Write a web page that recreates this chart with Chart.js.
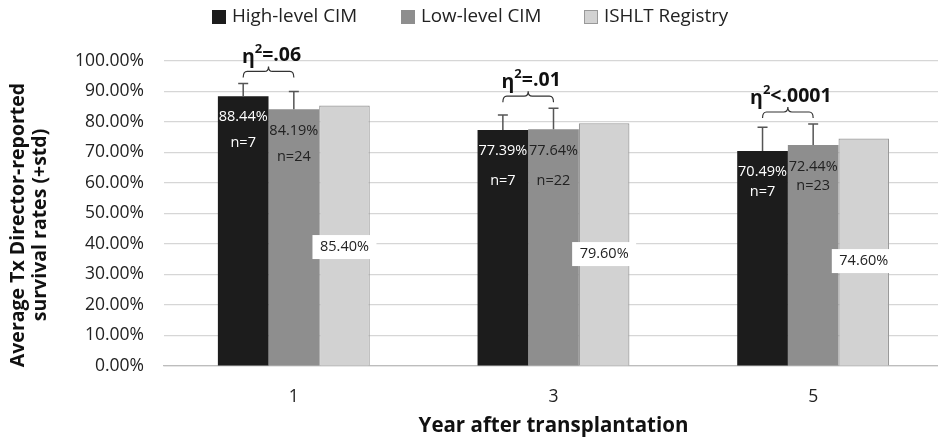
<!DOCTYPE html>
<html>
<head>
<meta charset="utf-8">
<script src="https://cdn.jsdelivr.net/npm/chart.js@4.4.1/dist/chart.umd.min.js"></script>
<style>
  html, body { margin: 0; padding: 0; background: #fff; overflow: hidden; }
  #wrap { width: 943px; height: 441px; }
</style>
</head>
<body>
<div id="wrap"><canvas id="chart"></canvas></div>
<script>
// categories and series
const years = ["1", "3", "5"];
const highLevel = [88.44, 77.39, 70.49];
const highStd = [4.2, 4.9, 7.8];
const highN = [7, 7, 7];
const lowLevel = [84.19, 77.64, 72.44];
const lowStd = [5.8, 6.9, 6.9];
const lowN = [24, 22, 23];
const registry = [85.40, 79.60, 74.60];
const etaText = ["=.06", "=.01", "<.0001"];

const seriesNames = ["High-level CIM", "Low-level CIM", "ISHLT Registry"];
const barColors = ["#1c1c1c", "#8e8e8e", "#d2d2d2"];
const FONT = "'Open Sans', sans-serif";

// label placement tweaks (px below bar top / value where registry box sits)
const nOffsetHigh = [47, 51, 41];
const nOffsetLow = [48, 52, 41];
const registryLabelAt = [39, 36.7, 34.4];

const fmt = (v) => v.toFixed(2) + "%";

const extrasPlugin = {
  id: "extras",
  afterDatasetsDraw(chart) {
    const ctx = chart.ctx;
    const y = chart.scales.y;
    const metaHigh = chart.getDatasetMeta(0);
    const metaLow = chart.getDatasetMeta(1);
    const metaReg = chart.getDatasetMeta(2);
    ctx.save();

    // error bars
    const drawErr = (meta, vals, stds) => {
      meta.data.forEach((bar, i) => {
        const top = y.getPixelForValue(vals[i] + stds[i]);
        ctx.strokeStyle = "#555";
        ctx.lineWidth = 1.5;
        ctx.beginPath();
        ctx.moveTo(bar.x, bar.y);
        ctx.lineTo(bar.x, top);
        ctx.moveTo(bar.x - 5, top);
        ctx.lineTo(bar.x + 5, top);
        ctx.stroke();
      });
    };
    drawErr(metaHigh, highLevel, highStd);
    drawErr(metaLow, lowLevel, lowStd);

    // value and n labels
    ctx.textAlign = "center";
    ctx.textBaseline = "middle";
    ctx.font = "14.5px " + FONT;
    metaHigh.data.forEach((bar, i) => {
      ctx.fillStyle = "#fff";
      ctx.fillText(fmt(highLevel[i]), bar.x, bar.y + 21);
      ctx.fillText("n=" + highN[i], bar.x, bar.y + nOffsetHigh[i]);
    });
    metaLow.data.forEach((bar, i) => {
      ctx.fillStyle = "#222";
      ctx.fillText(fmt(lowLevel[i]), bar.x, bar.y + 22);
      ctx.fillText("n=" + lowN[i], bar.x, bar.y + nOffsetLow[i]);
    });
    metaReg.data.forEach((bar, i) => {
      const cy = y.getPixelForValue(registryLabelAt[i]);
      ctx.fillStyle = "#fff";
      ctx.fillRect(bar.x - 32, cy - 12, 64, 24);
      ctx.fillStyle = "#222";
      ctx.fillText(fmt(registry[i]), bar.x, cy);
    });

    // eta-squared brackets
    metaHigh.data.forEach((bar, i) => {
      const lowBar = metaLow.data[i];
      const errTop = Math.min(
        y.getPixelForValue(highLevel[i] + highStd[i]),
        y.getPixelForValue(lowLevel[i] + lowStd[i])
      );
      const by = errTop - 12;
      const x1 = bar.x, x2 = lowBar.x, mid = (x1 + x2) / 2;
      ctx.strokeStyle = "#333";
      ctx.lineWidth = 1.2;
      ctx.beginPath();
      ctx.moveTo(x1, by + 6);
      ctx.quadraticCurveTo(x1, by, x1 + 4, by);
      ctx.lineTo(mid - 4, by);
      ctx.quadraticCurveTo(mid, by, mid, by - 5);
      ctx.quadraticCurveTo(mid, by, mid + 4, by);
      ctx.lineTo(x2 - 4, by);
      ctx.quadraticCurveTo(x2, by, x2, by + 6);
      ctx.stroke();

      // η² text
      const ty = by - 16;
      ctx.fillStyle = "#111";
      ctx.textBaseline = "middle";
      ctx.font = "bold 19.5px " + FONT;
      const wEta = ctx.measureText("η").width;
      const wRest = ctx.measureText(etaText[i]).width;
      ctx.font = "bold 13px " + FONT;
      const wSup = ctx.measureText("2").width;
      const total = wEta + wSup + wRest;
      let tx = mid + 3 - total / 2;
      ctx.textAlign = "left";
      ctx.font = "bold 19.5px " + FONT;
      ctx.fillText("η", tx, ty + 2);
      ctx.font = "bold 13px " + FONT;
      ctx.fillText("2", tx + wEta, ty - 6);
      ctx.font = "bold 19.5px " + FONT;
      ctx.fillText(etaText[i], tx + wEta + wSup, ty);
      ctx.textAlign = "center";
    });

    ctx.restore();
  },
  afterDraw(chart) {
    const ctx = chart.ctx;
    const area = chart.chartArea;
    ctx.save();

    // legend
    const legendX = [212, 401, 584];
    ctx.font = "18.8px " + FONT;
    ctx.textBaseline = "middle";
    ctx.textAlign = "left";
    seriesNames.forEach((name, i) => {
      ctx.fillStyle = barColors[i];
      ctx.fillRect(legendX[i], 10, 14, 14);
      if (i === 2) {
        ctx.strokeStyle = "#999";
        ctx.lineWidth = 1;
        ctx.strokeRect(legendX[i] + 0.5, 10.5, 13, 13);
      }
      ctx.fillStyle = "#222";
      ctx.fillText(name, legendX[i] + 20, 17);
    });

    // axis titles
    ctx.fillStyle = "#111";
    ctx.textAlign = "center";
    ctx.font = "bold 20.5px " + FONT;
    ctx.fillText("Year after transplantation", (area.left + area.right) / 2, 426);
    ctx.font = "bold 19.5px " + FONT;
    ctx.translate(29, 225);
    ctx.rotate(-Math.PI / 2);
    ctx.fillText("Average Tx Director-reported", 0, -11);
    ctx.fillText("survival rates (+std)", 0, 11);
    ctx.restore();
  }
};

new Chart(document.getElementById("chart"), {
  type: "bar",
  data: {
    labels: years,
    datasets: [
      { label: seriesNames[0], data: highLevel, backgroundColor: barColors[0], borderWidth: 0 },
      { label: seriesNames[1], data: lowLevel, backgroundColor: barColors[1], borderWidth: 0 },
      { label: seriesNames[2], data: registry, backgroundColor: barColors[2], borderColor: "#9a9a9a", borderWidth: 1.2 }
    ]
  },
  plugins: [extrasPlugin],
  options: {
    responsive: true,
    maintainAspectRatio: false,
    animation: false,
    layout: { padding: { top: 61, left: 0, right: 0, bottom: 0 } },
    plugins: {
      legend: { display: false },
      tooltip: { enabled: false }
    },
    datasets: {
      bar: { categoryPercentage: 0.585, barPercentage: 1 }
    },
    scales: {
      x: {
        grid: { display: false },
        border: { color: "#bdbdbd", width: 1.2 },
        ticks: { color: "#222", font: { family: FONT, size: 17.5 }, padding: 13 },
        afterFit: (s) => { s.height = 75; }
      },
      y: {
        min: 0,
        max: 100,
        ticks: {
          stepSize: 10,
          color: "#222",
          font: { family: FONT, size: 17.5 },
          padding: 20,
          callback: (v) => v.toFixed(2) + "%"
        },
        grid: { color: "#d6d6d6", lineWidth: 1.2, drawTicks: false },
        border: { display: false },
        afterFit: (s) => { s.width = 164; }
      }
    }
  }
});
</script>
</body>
</html>
